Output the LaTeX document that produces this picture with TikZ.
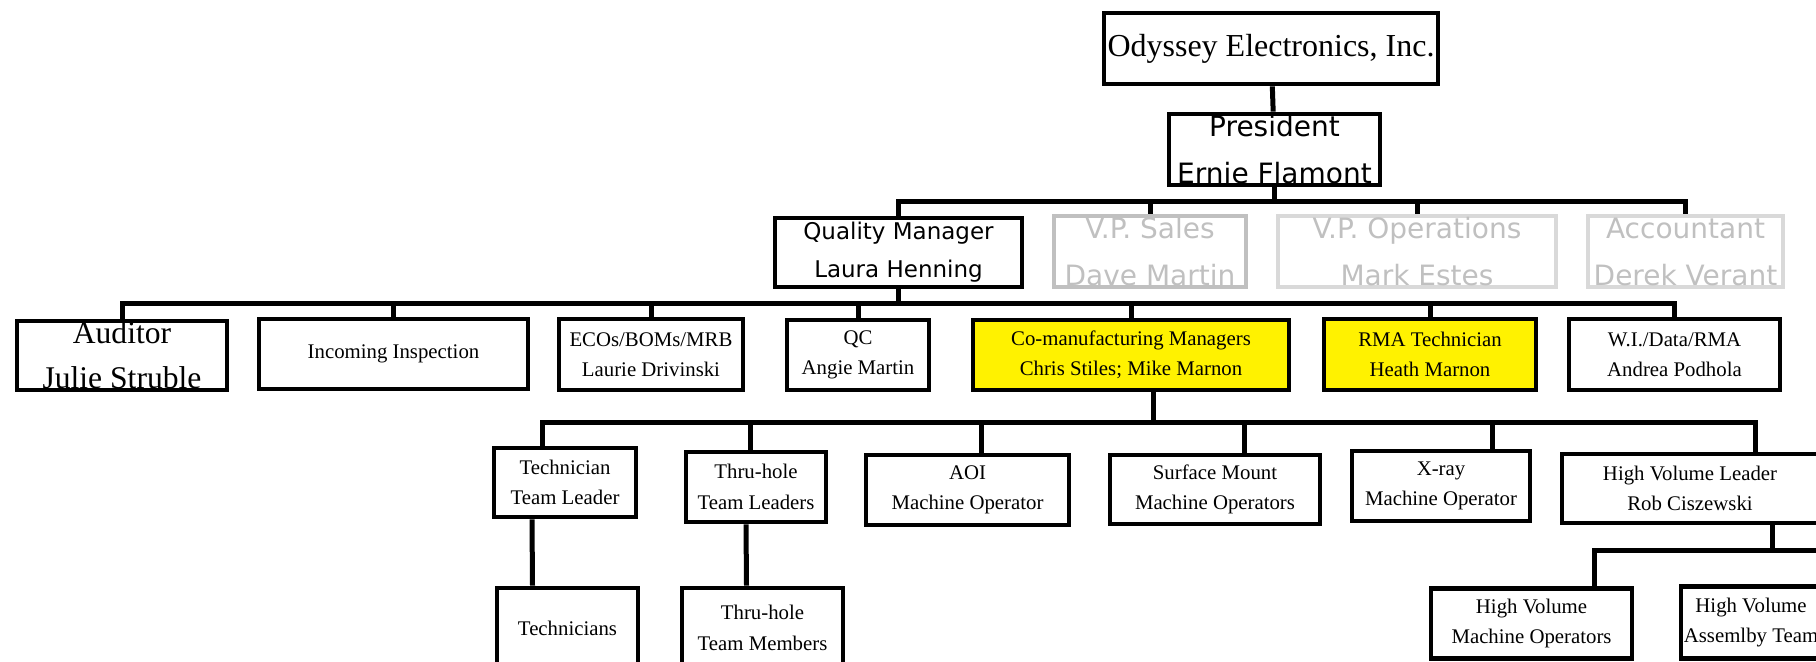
\documentclass[tikz,border=0pt]{standalone}
\usepackage{fontspec}
\setmainfont{Liberation Serif}
\newfontfamily\orgsans{DejaVu Sans}
\usepackage{tikz}
\definecolor{vpgray}{RGB}{192,192,192}
\definecolor{vplight}{RGB}{217,217,217}

\begin{document}
\begin{tikzpicture}[x=0.5pt,y=-0.5pt,
	box/.style={draw, line width=2.4pt, inner sep=0pt, align=center, font=\fontsize{10.4}{15.2}\selectfont},
	bigbox/.style={box, font=\fontsize{15.8}{22.5}\selectfont},
	sansbox/.style={box, font=\orgsans\fontsize{14}{23.5}\selectfont},
	qmbox/.style={box, font=\orgsans\fontsize{11.5}{19}\selectfont},
	vpbox/.style={sansbox, draw=vplight, text=vpgray, line width=1.9pt},
	hibox/.style={box, fill=yellow},
	link/.style={line width=2.5pt}]
	\useasboundingbox (0,0) rectangle (1816,661);
	\clip (0,0) rectangle (1816,661);
	%Company
	\node [bigbox, font=\fontsize{16}{20}\selectfont, minimum width=167pt, minimum height=35.5pt] (ody) at (1271,48.5) {Odyssey Electronics, Inc.};
	\node [sansbox, minimum width=105.5pt, minimum height=35.5pt] (pres) at (1274.5,149.5) {President\\Ernie Flamont};
	%Staff
	\node [qmbox, minimum width=123.5pt, minimum height=34.5pt] (qm) at (898.5,252.5) {Quality Manager\\Laura Henning};
	\node [vpbox, draw=vpgray, minimum width=96pt, minimum height=35.5pt] (vpsales) at (1150,251.5) {V.P. Sales\\Dave Martin};
	\node [vpbox, minimum width=139pt, minimum height=35.5pt] (vpops) at (1417,251.5) {V.P. Operations\\Mark Estes};
	\node [vpbox, minimum width=97.5pt, minimum height=35.5pt] (acct) at (1685.5,251.5) {Accountant\\Derek Verant};
	%Quality
	\node [bigbox, minimum width=105pt, minimum height=34.5pt] (aud) at (122,355.5) {Auditor\\Julie Struble};
	\node [box, minimum width=134.5pt, minimum height=35pt] (incoming) at (393.5,354) {Incoming Inspection};
	\node [box, minimum width=92pt, minimum height=35.5pt] (eco) at (651,354.5) {ECOs/BOMs/MRB\\Laurie Drivinski};
	\node [box, minimum width=71pt, minimum height=35pt] (qc) at (858,355) {QC\\Angie Martin};
	\node [hibox, minimum width=158pt, minimum height=35pt] (coman) at (1131,355) {Co-manufacturing Managers\\Chris Stiles; Mike Marnon};
	\node [hibox, minimum width=106pt, minimum height=35.5pt] (rma) at (1430,354.5) {RMA Technician\\Heath Marnon};
	\node [box, minimum width=105.5pt, minimum height=35.5pt] (wi) at (1674.5,354.5) {W.I./Data/RMA\\Andrea Podhola};
	%Production
	\node [box, minimum width=71pt, minimum height=34.5pt] (ttl) at (565,482.5) {Technician\\Team Leader};
	\node [box, minimum width=70pt, minimum height=35pt] (thtl) at (756,487) {Thru-hole\\Team Leaders};
	\node [box, minimum width=101.5pt, minimum height=35pt] (aoi) at (967.5,490) {AOI\\Machine Operator};
	\node [box, minimum width=105pt, minimum height=34.5pt] (smt) at (1215,489.5) {Surface Mount\\Machine Operators};
	\node [box, minimum width=89pt, minimum height=35pt] (xray) at (1441,486) {X-ray\\Machine Operator};
	\node [box, minimum width=128pt, minimum height=34.5pt] (hvl) at (1690,488.5) {High Volume Leader\\Rob Ciszewski};
	%Teams
	\node [box, minimum width=70.5pt, minimum height=40pt] (tech) at (567.5,628) {Technicians};
	\node [box, minimum width=80.5pt, minimum height=40pt] (thtm) at (762.5,628) {Thru-hole\\Team Members};
	\node [box, minimum width=100.5pt, minimum height=35pt] (hvmo) at (1531.5,623.5) {High Volume\\Machine Operators};
	\node [box, minimum width=70pt, minimum height=36pt] (hvasm) at (1751,622.5) {High Volume\\Assemlby Team};
	\coordinate (hvoff) at (1830,550);
	%Links
	\draw [link] (ody) -- (pres);
	\draw [link] (pres.south) -- ++(0,14) -| (qm.north);
	\draw [link] (pres.south) -- ++(0,14) -| (vpsales.north);
	\draw [link] (pres.south) -- ++(0,14) -| (vpops.north);
	\draw [link] (pres.south) -- ++(0,14) -| (acct.north);
	\draw [link] (qm.south) -- ++(0,14) -| (aud.north);
	\draw [link] (qm.south) -- ++(0,14) -| (incoming.north);
	\draw [link] (qm.south) -- ++(0,14) -| (eco.north);
	\draw [link] (qm.south) -- ++(0,14) -| (qc.north);
	\draw [link] (qm.south) -- ++(0,14) -| (coman.north);
	\draw [link] (qm.south) -- ++(0,14) -| (rma.north);
	\draw [link] (qm.south) -- ++(0,14) -| (wi.north);
	\draw [link] ([xshift=11pt]coman.south) -- ++(0,30) -| ([xshift=-11.5pt]ttl.north);
	\draw [link] ([xshift=11pt]coman.south) -- ++(0,30) -| ([xshift=-3pt]thtl.north);
	\draw [link] ([xshift=11pt]coman.south) -- ++(0,30) -| ([xshift=7pt]aoi.north);
	\draw [link] ([xshift=11pt]coman.south) -- ++(0,30) -| ([xshift=14.5pt]smt.north);
	\draw [link] ([xshift=11pt]coman.south) -- ++(0,30) -| ([xshift=25.5pt]xray.north);
	\draw [link] ([xshift=11pt]coman.south) -- ++(0,30) -| ([xshift=32.5pt]hvl.north);
	\draw [link] ([xshift=-16.5pt]ttl.south) -- ([xshift=-17.5pt]tech.north);
	\draw [link] ([xshift=-5pt]thtl.south) -- ([xshift=-8pt]thtm.north);
	\draw [link] ([xshift=41pt]hvl.south) -- ++(0,25) -| ([xshift=31.25pt]hvmo.north);
	\draw [link] ([xshift=41pt]hvl.south) |- (hvoff);
\end{tikzpicture}
\end{document}
